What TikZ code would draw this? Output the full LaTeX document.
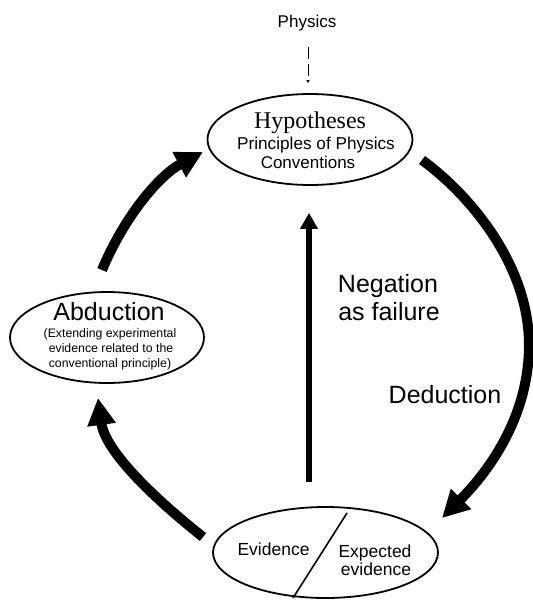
\documentclass[tikz,border=0pt]{standalone}
\usepackage{fontspec}
\setmainfont{Liberation Sans}
\newfontfamily\titleserif{Liberation Serif}
\usetikzlibrary{arrows.meta,shapes.geometric}
\begin{document}
\begin{tikzpicture}[x=1pt,y=-1pt,
  bubble/.style={draw, ellipse, line width=1.8pt, inner sep=0pt},
  txt/.style={inner sep=0pt, anchor=base},
  bigarrow/.style={line width=10pt, -{Triangle[length=27pt,width=27pt]}},
  midarrow/.style={line width=5.5pt, -{Triangle[length=16pt,width=17pt]}},
  dashlink/.style={line width=0.9pt, dash pattern=on 12pt off 5pt, -{Triangle[length=3pt,width=3pt]}}
]
\useasboundingbox (0,0) rectangle (533,600);

% the three bubbles
\node[bubble, minimum width=205pt, minimum height=91pt] (hyp) at (310,139.5) {};
\node[bubble, minimum width=194pt, minimum height=91pt] (abd) at (107,337.5) {};
\node[bubble, minimum width=225pt, minimum height=91pt] (ev) at (325.5,552.5) {};

% divider inside the evidence bubble
\coordinate (cutTop) at (347,513);
\coordinate (cutBot) at (293,598);
\draw[line width=1.6pt] (cutTop) -- (cutBot);

% texts
\node[txt] (physTxt) at (307,27) {\fontsize{17}{17}\selectfont Physics};
\node[txt] (hypT) at (310,128) {\titleserif\fontsize{24}{24}\selectfont Hypotheses};
\node[txt] (hypP) at (316,149) {\fontsize{17.2}{17.2}\selectfont Principles of Physics};
\node[txt] (hypC) at (308,168) {\fontsize{17}{17}\selectfont Conventions};

\node[txt] (abdT) at (109,320) {\fontsize{25}{25}\selectfont Abduction};
\node[txt] (abd1) at (110,337) {\fontsize{12.3}{12.3}\selectfont (Extending experimental};
\node[txt] (abd2) at (111,352) {\fontsize{12.3}{12.3}\selectfont evidence related to the};
\node[txt] (abd3) at (110,367) {\fontsize{12.3}{12.3}\selectfont conventional principle)};

\node[txt] (evL) at (273.5,555) {\fontsize{17.5}{17.5}\selectfont Evidence};
\node[txt] (evR1) at (375,557) {\fontsize{17.5}{17.5}\selectfont Expected};
\node[txt] (evR2) at (376,575) {\fontsize{17.5}{17.5}\selectfont evidence};

\node[txt] (naf1) at (388,292) {\fontsize{25}{25}\selectfont Negation};
\node[txt] (naf2) at (389,320) {\fontsize{25}{25}\selectfont as failure};
\node[txt] (dedT) at (445,403) {\fontsize{25}{25}\selectfont Deduction};

% physics feeds the hypotheses
\coordinate (physFoot) at (308,47);
\draw[dashlink, shorten >=10pt] (physFoot) -- (physFoot |- hyp.north);

% negation as failure
\coordinate (nafFoot) at (309,482);
\draw[midarrow, shorten >=27pt] (nafFoot) -- (nafFoot |- hyp.south);

% deduction
\coordinate (dedStart) at (422,160);
\coordinate (dedEnd) at (442,518);
\draw[bigarrow] (dedStart) .. controls (470,195) and (529,265) .. (529,345)
                .. controls (529,420) and (485,475) .. (dedEnd);

% abduction loop
\coordinate (evOut) at (203,537);
\coordinate (abdIn) at (98,398);
\draw[bigarrow] (evOut) .. controls (150,495) and (105,450) .. (abdIn);

\coordinate (abdOut) at (102,270);
\coordinate (hypIn) at (203,152);
\draw[bigarrow] (abdOut) .. controls (125,215) and (160,175) .. (hypIn);
\end{tikzpicture}
\end{document}
